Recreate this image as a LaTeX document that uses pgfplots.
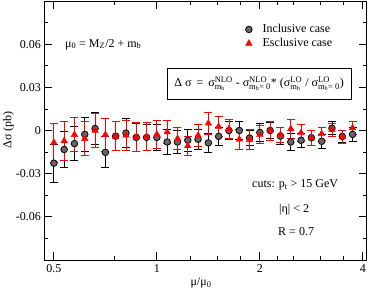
\documentclass[border=0pt]{standalone}
\usepackage{fontspec}
\setmainfont{Liberation Serif}
\usepackage{pgfplots}
\pgfplotsset{compat=1.18}
\usepackage{pgfplotstable}

\pgfplotstableread{
x y e
0.5000 -0.0227 0.0132
0.5359 -0.0132 0.0127
0.5743 -0.0091 0.0116
0.6156 -0.0027 0.0120
0.6598 0.0014 0.0110
0.7071 -0.0152 0.0108
0.7579 -0.0039 0.0102
0.8123 -0.0018 0.0099
0.8706 -0.0048 0.0099
0.9330 -0.0048 0.0089
1.0000 -0.0048 0.0089
1.0718 -0.0080 0.0084
1.1487 -0.0080 0.0082
1.2311 -0.0068 0.0075
1.3195 -0.0061 0.0070
1.4142 -0.0086 0.0068
1.5157 -0.0041 0.0065
1.6245 0.0000 0.0062
1.7411 0.0000 0.0065
1.8661 -0.0052 0.0051
2.0000 -0.0014 0.0061
2.1435 0.0000 0.0057
2.2974 -0.0039 0.0059
2.4623 -0.0080 0.0057
2.6390 -0.0068 0.0050
2.8284 -0.0050 0.0051
3.0314 -0.0075 0.0051
3.2490 0.0016 0.0045
3.4822 -0.0041 0.0040
3.7321 -0.0027 0.0050
}\inclusive

\pgfplotstableread{
x y e
0.5000 -0.0084 0.0136
0.5359 -0.0073 0.0133
0.5743 -0.0029 0.0119
0.6156 -0.0057 0.0119
0.6598 0.0000 0.0117
0.7071 -0.0029 0.0114
0.7579 -0.0041 0.0101
0.8123 -0.0034 0.0105
0.8706 -0.0045 0.0099
0.9330 -0.0041 0.0097
1.0000 -0.0027 0.0099
1.0718 -0.0011 0.0082
1.1487 -0.0057 0.0077
1.2311 -0.0107 0.0069
1.3195 -0.0034 0.0077
1.4142 0.0050 0.0074
1.5157 0.0027 0.0068
1.6245 0.0011 0.0066
1.7411 -0.0061 0.0068
1.8661 -0.0064 0.0070
2.0000 -0.0030 0.0062
2.1435 0.0000 0.0066
2.2974 -0.0030 0.0053
2.4623 0.0011 0.0065
2.6390 -0.0016 0.0057
2.8284 -0.0052 0.0055
3.0314 -0.0023 0.0045
3.2490 0.0005 0.0045
3.4822 -0.0045 0.0045
3.7321 0.0018 0.0045
}\exclusive

\newcommand{\SupSub}[2]{\ensuremath{^{\mbox{\fontsize{8.5bp}{9bp}\selectfont #1}}_{\mbox{\fontsize{8.5bp}{9bp}\selectfont #2}}}}

\begin{document}
\fontsize{12bp}{14bp}\selectfont
\begin{tikzpicture}
\begin{axis}[
  at={(45bp,31bp)}, anchor=south west,
  scale only axis, width=321bp, height=259bp,
  xmode=log, xmin=0.471, xmax=4.085, ymin=-0.09, ymax=0.09,
  xtick={0.5,1,2,4}, xticklabels={0.5,1,2,4},
  minor xtick={0.75,1.25,1.5,1.75,2.25,2.5,3,3.5},
  ytick={-0.06,-0.03,0,0.03,0.06}, yticklabels={-0.06,-0.03,0,0.03,0.06},
  minor ytick={-0.075,-0.045,-0.015,0.015,0.045,0.075},
  tick align=inside, major tick length=7.5bp, minor tick length=3.5bp,
  axis line style={line width=1bp},
  every tick/.style={black, line width=0.8bp},
  tick label style={font=\fontsize{12bp}{14bp}\selectfont},
  xlabel={μ/μ\textsubscript{0}},
  ylabel={Δσ (pb)},
  xlabel style={at={(axis description cs:0.486,-0.089)}, anchor=center, font=\fontsize{12bp}{14bp}\selectfont},
  ylabel style={at={(axis description cs:-0.114,0.502)}, anchor=center, font=\fontsize{12bp}{14bp}\selectfont},
  legend style={draw=none, fill=none, at={(0.609,0.918)}, anchor=north west,
    inner sep=0pt, row sep=0pt, font=\fontsize{12bp}{14bp}\selectfont,
    nodes={text height=8.5bp, text depth=2.5bp, inner sep=1.5bp}},
  legend cell align=left,
  legend image code/.code={\path (0bp,0bp) (20bp,0bp);\draw[#1, mark repeat=2, mark phase=2] plot coordinates {(0bp,0bp)(8bp,0bp)(16bp,0bp)};},
]
\addplot[only marks, mark=*, mark size=3.3bp,
  mark options={fill=black!60, draw=black, line width=0.8bp},
  error bars/.cd, y dir=both, y explicit,
  error bar style={black, line width=0.9bp},
  error mark options={rotate=90, black, mark size=4bp, line width=0.9bp}]
  table[x=x, y=y, y error=e] {\inclusive};
\addlegendentry{Inclusive case}
\addplot[only marks, mark=triangle*, mark size=3.8bp,
  mark options={fill=red, draw=red},
  error bars/.cd, y dir=both, y explicit,
  error bar style={red, line width=0.9bp},
  error mark options={rotate=90, red, mark size=4bp, line width=0.9bp}]
  table[x=x, y=y, y error=e] {\exclusive};
\addlegendentry{Esclusive case}

\node[anchor=base west, inner sep=0pt] at (rel axis cs:0.062,0.822)
  {μ\textsubscript{0} = M\textsubscript{Z}/2 + m\textsubscript{b}};
\node[draw, line width=1bp, minimum width=184bp, minimum height=31bp, inner sep=0pt, fill=white]
  at (rel axis cs:0.667,0.681)
  {Δ σ \,=\, σ\SupSub{NLO}{m\textsubscript{b}} - σ\SupSub{NLO}{m\textsubscript{b}= 0}* (σ\SupSub{LO}{m\textsubscript{b}} / σ\SupSub{LO}{m\textsubscript{b}= 0})};
\node[anchor=base west, inner sep=0pt] at (rel axis cs:0.645,0.281)
  {cuts: p\textsubscript{t} > 15 GeV};
\node[anchor=base west, inner sep=0pt] at (rel axis cs:0.729,0.185)
  {|η| < 2};
\node[anchor=base west, inner sep=0pt] at (rel axis cs:0.726,0.0965)
  {R = 0.7};
\end{axis}
\pgfresetboundingbox
\useasboundingbox (0,0) rectangle (368bp,291bp);
\end{tikzpicture}
\end{document}
